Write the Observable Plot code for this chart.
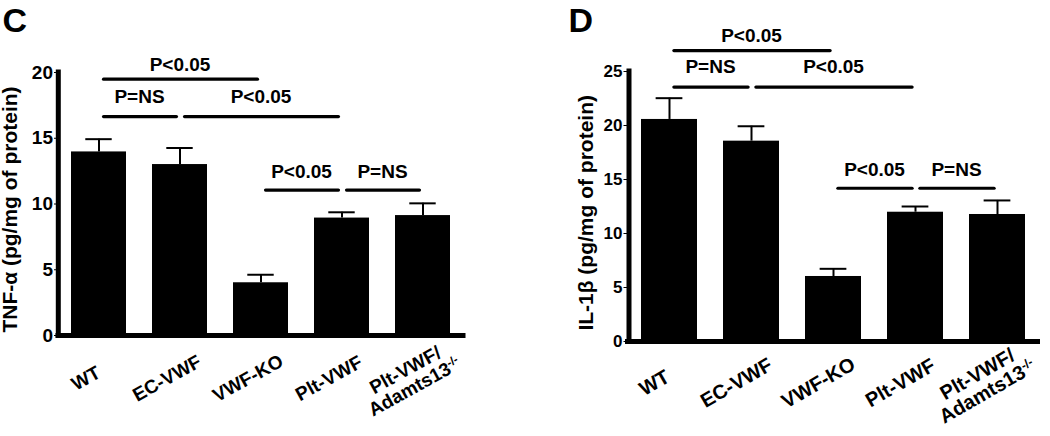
<!DOCTYPE html>
<html><head><meta charset="utf-8">
<script src="https://cdn.jsdelivr.net/npm/d3@7"></script>
<script src="https://cdn.jsdelivr.net/npm/@observablehq/plot@0.6"></script>
<style>
html,body{margin:0;padding:0;background:#fff;}
#wrap{display:flex;width:1050px;height:436px;}
</style></head><body><div id="wrap"></div>
<script>
// ---- data ----
const groups = ["WT", "EC-VWF", "VWF-KO", "Plt-VWF", "Plt-VWF/Adamts13"];
const groupLabels = ["WT", "EC-VWF", "VWF-KO", "Plt-VWF", "Plt-VWF/\nAdamts13-/-"];
const tnfMean = [13.96, 13.0, 4.01, 8.93, 9.12];
const tnfSem = [0.97, 1.26, 0.61, 0.44, 0.93];
const il1bMean = [20.56, 18.55, 6.02, 11.97, 11.76];
const il1bSem = [1.97, 1.38, 0.71, 0.53, 1.30];
const tnfTicks = [0, 5, 10, 15, 20];
const il1bTicks = [0, 5, 10, 15, 20, 25];
const bracketFrom = ["WT", "WT", "EC-VWF", "VWF-KO", "Plt-VWF"];
const bracketTo = ["VWF-KO", "EC-VWF", "Plt-VWF", "Plt-VWF", "Plt-VWF/Adamts13"];
const bracketText = ["P<0.05", "P=NS", "P<0.05", "P<0.05", "P=NS"];
const tnfBracketY = [19.49, 16.65, 16.65, 11.06, 11.06];
const tnfLabelY = [20.6, 18.17, 18.17, 12.47, 12.47];
const il1bBracketY = [26.94, 23.56, 23.56, 14.19, 14.19];
const il1bLabelY = [28.33, 25.4, 25.4, 15.9, 15.9];

// ---- layout / style ----
const W = 525, H = 436;
const padIn = 0.32, padOut = 0.16;
const font = "'Liberation Sans', Arial, Helvetica, sans-serif";

function panel(c) {
  const data = groups.map((g, i) => ({group: g, label: groupLabels[i], mean: c.mean[i], upper: c.mean[i] + c.sem[i]}));
  const step = (W - c.ml - c.mr) / (groups.length - padIn + 2 * padOut);
  const bw = step * (1 - padIn);
  const brackets = bracketFrom.map((f, i) => ({from: f, to: bracketTo[i], y: c.bY[i], ly: c.lY[i], text: bracketText[i]}));
  const yTop = c.ticks[c.ticks.length - 1];
  const yAxisLine = (index, scales, values, dims) => {
    const l = document.createElementNS("http://www.w3.org/2000/svg", "line");
    l.setAttribute("x1", dims.marginLeft + c.axisDx);
    l.setAttribute("x2", dims.marginLeft + c.axisDx);
    l.setAttribute("y1", scales.y(0));
    l.setAttribute("y2", scales.y(yTop));
    l.setAttribute("stroke", "black");
    l.setAttribute("stroke-width", 5);
    l.setAttribute("stroke-linecap", "square");
    return l;
  };
  return Plot.plot({
    width: W, height: H,
    marginLeft: c.ml, marginRight: c.mr, marginTop: c.mt, marginBottom: c.mb,
    style: {fontFamily: font, fontWeight: "bold", fontSize: c.tickFont + "px", color: "black", background: "white", overflow: "visible"},
    x: {domain: groups, paddingInner: padIn, paddingOuter: padOut, axis: null},
    y: {domain: [0, yTop], ticks: c.ticks, tickSize: 4, tickPadding: 1.5, label: null},
    marks: [
      Plot.barY(data, {x: "group", y: "mean", fill: "black"}),
      Plot.ruleX(data, {x: "group", y1: "mean", y2: "upper", strokeWidth: 2}),
      Plot.tickY(data, {x: "group", y: "upper", strokeWidth: 2, inset: (bw - 26.5) / 2}),
      Plot.ruleY([0], {strokeWidth: 5, strokeLinecap: "square"}),
      yAxisLine,
      Plot.ruleY(brackets, {x1: "from", x2: "to", y: "y", strokeWidth: 3.2, strokeLinecap: "round", insetLeft: bw / 2 + 5, insetRight: bw / 2 + 3}),
      ...brackets.map(b => Plot.text([b], {
        x: "from", y: "ly", text: "text",
        dx: (groups.indexOf(b.to) - groups.indexOf(b.from)) * step / 2,
        fontSize: 19, fontWeight: "bold", fontFamily: font
      })),
      Plot.text(data, {
        x: "group", text: "label", frameAnchor: "bottom", dy: c.labelDy, dx: c.labelDx,
        rotate: c.rot, textAnchor: "middle", lineAnchor: "middle",
        fontSize: c.labelFont, fontWeight: "bold", fontFamily: font
      }),
      Plot.text([c.yLabel], {
        text: d => d, frameAnchor: "left", rotate: -90, textAnchor: "middle", lineAnchor: "bottom",
        dx: c.yLabelX - c.ml, dy: c.yLabelDy, fontSize: 21, fontWeight: "bold", fontFamily: font
      }),
      Plot.text([c.letter], {
        text: d => d, frameAnchor: "top-left", textAnchor: "start", lineAnchor: "bottom",
        dx: c.letterX - c.ml, dy: 31 - c.mt, fontSize: 34, fontWeight: "bold", fontFamily: font
      })
    ]
  });
}

const wrap = document.getElementById("wrap");
const pC = panel({
  letter: "C", yLabel: "TNF-α (pg/mg of protein)", mean: tnfMean, sem: tnfSem, ticks: tnfTicks,
  bY: tnfBracketY, lY: tnfLabelY, ml: 58, mr: 62, mt: 72, mb: 101, tickFont: 19,
  labelDx: -13, labelDy: 43, labelFont: 19, rot: -29, yLabelX: 16.7, yLabelDy: 5.5, letterX: 2, axisDx: 0.3
});
const pD = panel({
  letter: "D", yLabel: "IL-1β (pg/mg of protein)", mean: il1bMean, sem: il1bSem, ticks: il1bTicks,
  bY: il1bBracketY, lY: il1bLabelY, ml: 102.5, mr: 12.5, mt: 71, mb: 95, tickFont: 17,
  labelDx: -15, labelDy: 41.5, labelFont: 20, rot: -30, yLabelX: 67, yLabelDy: 6.3, letterX: 43, axisDx: 1.5
});
wrap.appendChild(pC);
wrap.appendChild(pD);

// superscript for the genotype label
for (const svg of [pC, pD]) {
  svg.querySelectorAll("tspan").forEach(t => {
    if (t.textContent === "Adamts13-/-") {
      t.textContent = "Adamts13";
      const s = document.createElementNS("http://www.w3.org/2000/svg", "tspan");
      s.setAttribute("dy", "-0.55em");
      s.setAttribute("font-size", "0.62em");
      s.textContent = "-/-";
      t.appendChild(s);
    }
  });
}
</script>
</body></html>
